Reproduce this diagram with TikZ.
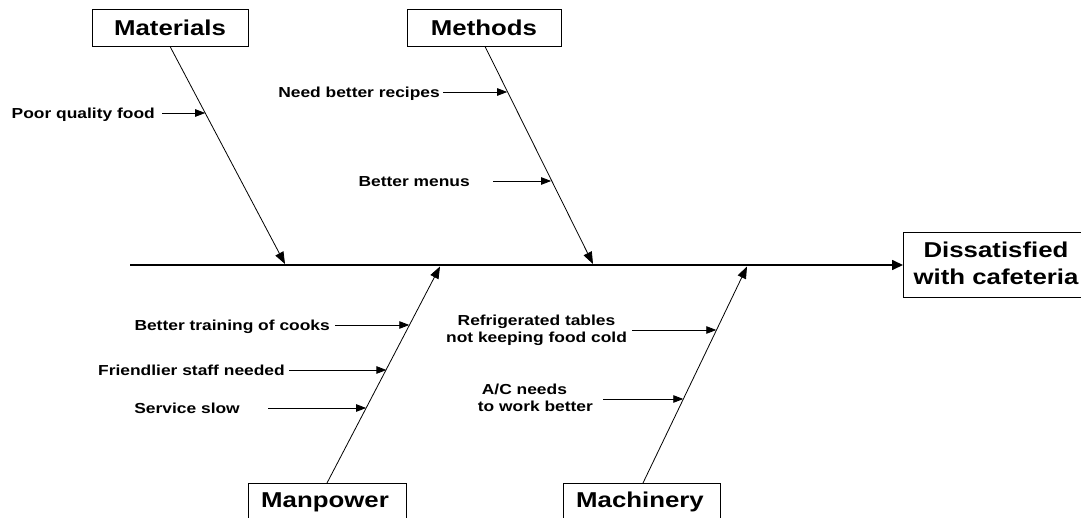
\documentclass[tikz,border=0pt]{standalone}
\usepackage{fontspec}
\newfontfamily\labfont{Liberation Sans}[FakeStretch=1.2]
\usetikzlibrary{arrows.meta}
\begin{document}
\begin{tikzpicture}[x=1pt,y=-1pt,
  bigfont/.style={font=\labfont\bfseries\fontsize{21.5}{27}\selectfont},
  smallfont/.style={font=\labfont\bfseries\fontsize{14.5}{17}\selectfont},
  catbox/.style={draw, line width=0.8pt, minimum width=156pt, minimum height=37pt, inner sep=0pt, bigfont},
  openbox/.style={draw, line width=0.8pt, minimum width=158pt, minimum height=70pt, inner sep=0pt, anchor=north},
  cattext/.style={inner sep=0pt, text height=15.4pt, text depth=0pt, bigfont},
  causetext/.style={inner sep=0pt, text height=10.4pt, text depth=0pt, anchor=east, smallfont},
  causepair/.style={inner sep=0pt, smallfont},
  bone/.style={line width=0.8pt, -{Triangle[length=12pt,width=9pt]}},
  causearrow/.style={line width=0.8pt, -{Triangle[length=10pt,width=7.5pt]}},
  spine/.style={line width=1.6pt, -{Triangle[length=11pt,width=10pt]}}
]
\clip (0,0) rectangle (1081,518);

% effect box (runs past the right edge)
\node[draw, line width=0.8pt, minimum width=250pt, minimum height=65pt, anchor=west, inner sep=0pt] (effect) at (903,265) {};
\node[bigfont, inner sep=0pt, align=center] (effecttext) at (996,263.5) {Dissatisfied\\with cafeteria};

% spine
\coordinate (tail) at (130,265);
\draw[spine] (tail) -- (effect.west);

% category boxes
\node[catbox] (materials) at (170,27.5) {Materials};
\node[catbox, minimum width=154pt] (methods) at (484,27.5) {Methods};
\node[openbox] (manpower) at (327,483) {};
\node[cattext] (manpowertext) at (325,500) {Manpower};
\node[openbox, minimum width=157pt] (machinery) at (642,483) {};
\node[cattext] (machinerytext) at (640,500) {Machinery};

% bone ends on the spine
\coordinate (jmat) at (285,264);
\coordinate (jmet) at (593,264);
\coordinate (jman) at (440,266.5);
\coordinate (jmac) at (747,266.5);

\draw[bone] (materials.south) -- (jmat);
\draw[bone] ([xshift=1pt]methods.south) -- (jmet);
\draw[bone] (manpower.north) -- (jman);
\draw[bone] ([xshift=1pt]machinery.north) -- (jmac);

% points where the causes meet their bones
\coordinate (c1) at (205.2,113);
\coordinate (c2) at (507.2,92);
\coordinate (c3) at (551.1,181);
\coordinate (c4) at (409.3,325);
\coordinate (c5) at (386.4,370);
\coordinate (c6) at (366.1,408);
\coordinate (c7) at (716.3,330);
\coordinate (c8) at (683.3,399);

% cause labels
\node[causetext] (poorfood) at (155,113) {Poor quality food};
\node[causetext] (recipes) at (440,92) {Need better recipes};
\node[causetext] (menus) at (470,181) {Better menus};
\node[causetext] (training) at (330,325) {Better training of cooks};
\node[causetext] (friendly) at (285,370) {Friendlier staff needed};
\node[causetext] (slow) at (240,408) {Service slow};
\node[causepair, align=center, anchor=north] (fridge) at (536.5,314.4) {Refrigerated tables\\not keeping food cold};
\node[causepair, align=left, anchor=north west] (aircon) at (477.7,383.4) {\hspace*{4pt}A/C needs\\to work better};

% cause arrows
\draw[causearrow, shorten <=7pt] (poorfood.east |- c1) -- (c1);
\draw[causearrow, shorten <=3pt] (recipes.east |- c2) -- (c2);
\draw[causearrow, shorten <=23pt] (menus.east |- c3) -- (c3);
\draw[causearrow, shorten <=5pt] (training.east |- c4) -- (c4);
\draw[causearrow, shorten <=4pt] (friendly.east |- c5) -- (c5);
\draw[causearrow, shorten <=28pt] (slow.east |- c6) -- (c6);
\draw[causearrow, shorten <=5pt] (fridge.east |- c7) -- (c7);
\draw[causearrow, shorten <=10pt] (aircon.east |- c8) -- (c8);
\end{tikzpicture}
\end{document}
